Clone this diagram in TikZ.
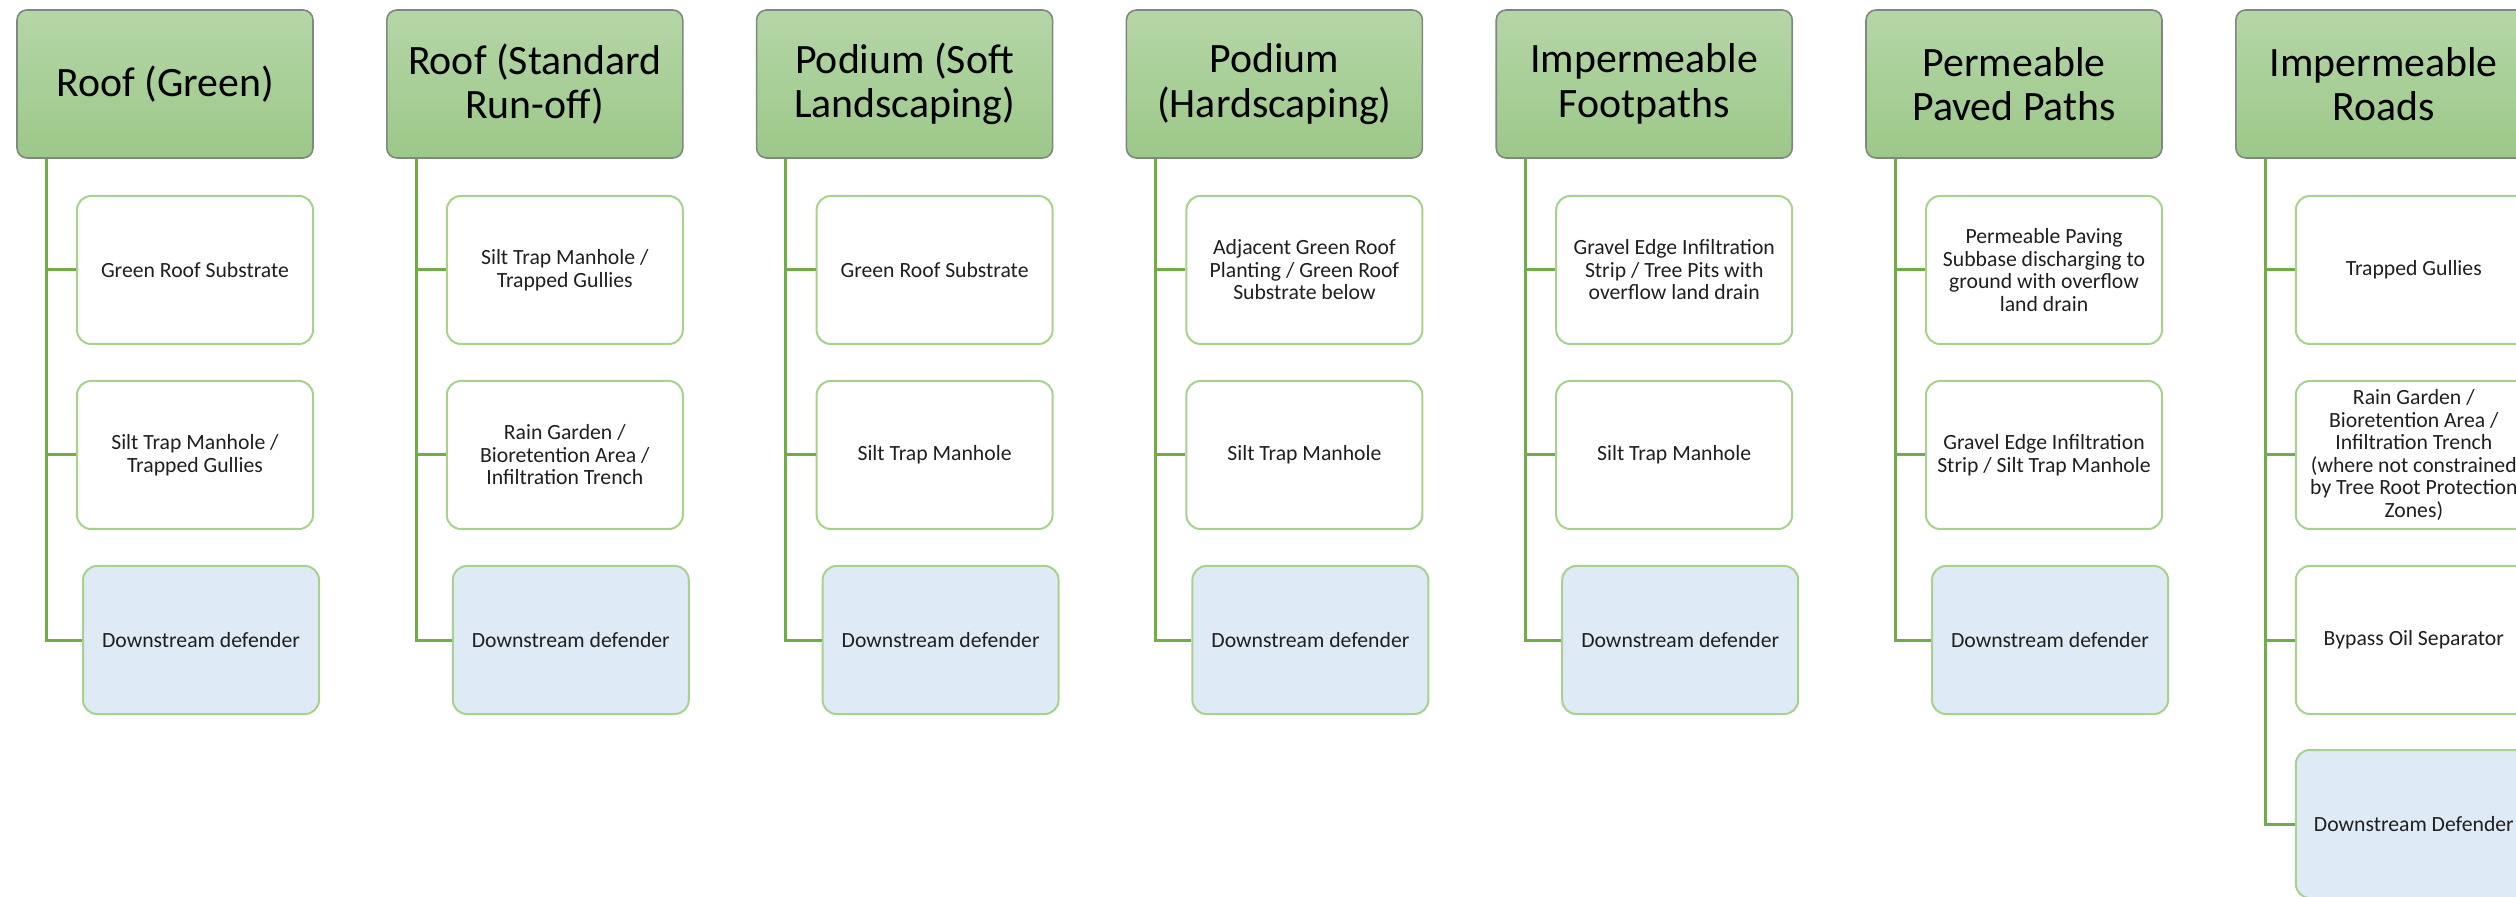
\documentclass[tikz,border=0pt]{standalone}
\usepackage{fontspec}
\setmainfont{Carlito}
\usepackage{tikz}
\usetikzlibrary{positioning}
\definecolor{hdrtop}{RGB}{181,214,167}
\definecolor{hdrbot}{RGB}{156,200,137}
\definecolor{hdrline}{RGB}{128,134,128}
\definecolor{itemline}{RGB}{169,209,142}
\definecolor{linkgreen}{RGB}{112,173,71}
\definecolor{defblue}{RGB}{222,235,247}
\tikzset{
  hdr/.style={draw=hdrline, line width=0.8pt, rounded corners=5pt, top color=hdrtop, bottom color=hdrbot,
    minimum width=148pt, minimum height=74pt, align=center, inner sep=0pt,
    font=\fontsize{20.9pt}{22.15pt}\selectfont},
  item/.style={draw=itemline, line width=1pt, rounded corners=7pt, fill=white,
    minimum width=118pt, minimum height=74pt, align=center, inner sep=0pt, text=black!88,
    font=\fontsize{10.85pt}{11.25pt}\selectfont},
  defender/.style={item, fill=defblue},
  link/.style={draw=linkgreen, line width=1.5pt}
}

\begin{document}
\begin{tikzpicture}[x=0.5pt, y=-0.5pt]
  \useasboundingbox (0,0) rectangle (2516,897);
  \clip (0,0) rectangle (2516,897);
  % column headers
  \node[hdr] (h1) at (165,84) {Roof (Green)};
  \node[hdr] (h2) at (534.8,84) {Roof (Standard\\Run-off)};
  \node[hdr] (h3) at (904.6,84) {Podium (Soft\\Landscaping)};
  \node[hdr] (h4) at (1274.4,84) {Podium\\(Hardscaping)};
  \node[hdr] (h5) at (1644.2,84) {Impermeable\\Footpaths};
  \node[hdr] (h6) at (2014,84) {Permeable\\Paved Paths};
  \node[hdr] (h7) at (2383.8,84) {Impermeable\\Roads};
  % treatment stages
  \node[item] (c1a) at (195,270) {Green Roof Substrate};
  \node[item] (c1b) at (195,455) {Silt Trap Manhole /\\Trapped Gullies};
  \node[defender] (c1c) at (201,640) {Downstream defender};
  \node[item] (c2a) at (564.8,270) {Silt Trap Manhole /\\Trapped Gullies};
  \node[item] (c2b) at (564.8,455) {Rain Garden /\\Bioretention Area /\\Infiltration Trench};
  \node[defender] (c2c) at (570.8,640) {Downstream defender};
  \node[item] (c3a) at (934.6,270) {Green Roof Substrate};
  \node[item] (c3b) at (934.6,455) {Silt Trap Manhole};
  \node[defender] (c3c) at (940.6,640) {Downstream defender};
  \node[item] (c4a) at (1304.4,270) {Adjacent Green Roof\\Planting / Green Roof\\Substrate below};
  \node[item] (c4b) at (1304.4,455) {Silt Trap Manhole};
  \node[defender] (c4c) at (1310.4,640) {Downstream defender};
  \node[item] (c5a) at (1674.2,270) {Gravel Edge Infiltration\\Strip / Tree Pits with\\overflow land drain};
  \node[item] (c5b) at (1674.2,455) {Silt Trap Manhole};
  \node[defender] (c5c) at (1680.2,640) {Downstream defender};
  \node[item] (c6a) at (2044,270) {Permeable Paving\\Subbase discharging to\\ground with overflow\\land drain};
  \node[item] (c6b) at (2044,455) {Gravel Edge Infiltration\\Strip / Silt Trap Manhole};
  \node[defender] (c6c) at (2050,640) {Downstream defender};
  \node[item] (c7a) at (2413.8,270) {Trapped Gullies};
  \node[item] (c7b) at (2413.8,455) {Rain Garden /\\Bioretention Area /\\Infiltration Trench\\(where not constrained\\by Tree Root Protection\\Zones)};
  \node[item] (c7c) at (2413.8,640) {Bypass Oil Separator};
  \node[defender] (c7d) at (2413.8,824) {Downstream Defender};
  % connectors
  \foreach \col in {1,...,6}
    \foreach \row in {a,b,c}
      \draw[link] ([xshift=15pt]h\col.south west) |- (c\col\row.west);
  \foreach \row in {a,b,c,d}
    \draw[link] ([xshift=15pt]h7.south west) |- (c7\row.west);
\end{tikzpicture}
\end{document}
